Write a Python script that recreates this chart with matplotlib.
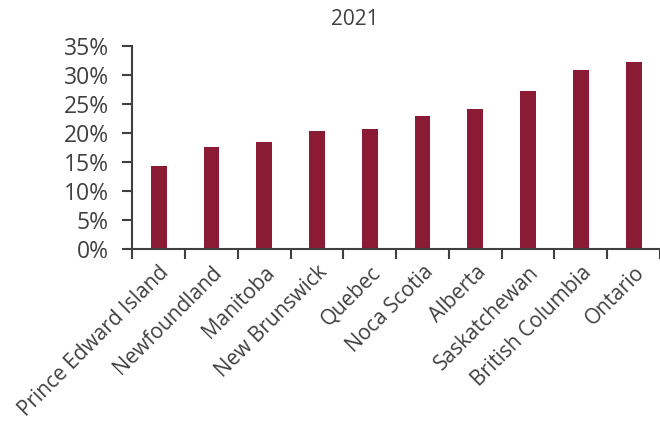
import matplotlib
matplotlib.use("Agg")
import matplotlib.pyplot as plt
from matplotlib.ticker import FuncFormatter, FixedLocator

provinces = ["Prince Edward Island", "Newfoundland", "Manitoba", "New Brunswick",
             "Quebec", "Noca Scotia", "Alberta", "Saskatchewan",
             "British Columbia", "Ontario"]
values = [14.4, 17.6, 18.4, 20.3, 20.6, 22.9, 24.2, 27.2, 30.8, 32.2]
title = "2021"

plt.rcParams['font.family'] = ['Open Sans', 'DejaVu Sans']
text_color = "#404040"
bar_color = "#8B1A35"

fig = plt.figure(figsize=(6.6, 4.25), dpi=100)
ax = fig.add_axes([0.2005, 0.4134, 0.7995, 0.4791])

x = list(range(len(provinces)))
ax.bar(x, values, width=0.30, color=bar_color)

ax.set_xlim(-0.5, len(provinces) - 0.5)
ax.set_ylim(0, 35)
ax.set_yticks([0, 5, 10, 15, 20, 25, 30, 35])
ax.yaxis.set_major_formatter(FuncFormatter(lambda v, p: f"{int(v)}%"))

ax.xaxis.set_major_locator(FixedLocator([i - 0.5 for i in range(len(provinces) + 1)]))
ax.xaxis.set_major_formatter(FuncFormatter(lambda v, p: ""))
ax.xaxis.set_minor_locator(FixedLocator(x))
ax.set_xticklabels(provinces, minor=True, rotation=45, ha="right",
                   rotation_mode="anchor", fontsize=15, color=text_color)
ax.tick_params(axis="x", which="minor", length=0, pad=9)
ax.tick_params(axis="x", which="major", length=7, width=1.5, color="#404040", direction="out")
ax.tick_params(axis="y", length=7, width=1.5, color="#404040", labelsize=16.5,
               labelcolor=text_color, pad=10)

for s in ["top", "right"]:
    ax.spines[s].set_visible(False)
for s in ["left", "bottom"]:
    ax.spines[s].set_color("#404040")
    ax.spines[s].set_linewidth(1.5)

fig.text(0.537, 0.955, title, ha="center", va="center", fontsize=15, color=text_color)

fig.savefig("out.png", dpi=100)
